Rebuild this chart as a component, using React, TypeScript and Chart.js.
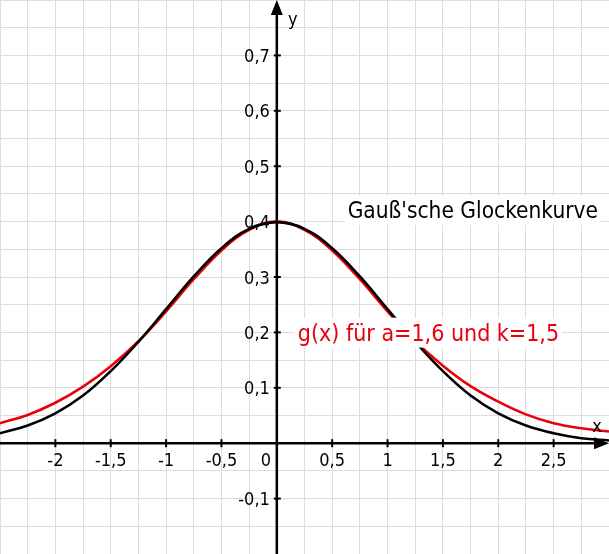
import React, { useEffect, useRef } from 'react';
import { Chart, registerables } from 'chart.js';

Chart.register(...registerables);

const xValues = [-2.5, -2.25, -2, -1.75, -1.5, -1.25, -1, -0.75, -0.5, -0.25, 0, 0.25, 0.5, 0.75, 1, 1.25, 1.5, 1.75, 2, 2.25, 2.5, 2.75, 3];
// Gauß'sche Glockenkurve (black)
const gaussValues = [0.018, 0.032, 0.054, 0.086, 0.13, 0.183, 0.242, 0.301, 0.352, 0.387, 0.399, 0.387, 0.352, 0.301, 0.242, 0.183, 0.13, 0.086, 0.054, 0.032, 0.018, 0.009, 0.005];
// g(x) für a=1,6 und k=1,5 (red)
const gValues = [0.036, 0.051, 0.073, 0.102, 0.139, 0.184, 0.238, 0.296, 0.348, 0.385, 0.4, 0.385, 0.348, 0.296, 0.238, 0.184, 0.14, 0.103, 0.075, 0.052, 0.036, 0.027, 0.021];

const xTicks = [-2, -1.5, -1, -0.5, 0.5, 1, 1.5, 2, 2.5];
const yTicks = [-0.1, 0.1, 0.2, 0.3, 0.4, 0.5, 0.6, 0.7];

const RED = '#e8000b';
const FONT = "'DejaVu Sans Condensed', 'DejaVu Sans', sans-serif";

const fmt = (v: number) => String(v).replace('.', ',');

const axesPlugin = {
  id: 'mathAxes',
  beforeDatasetsDraw(chart: any) {
    const { ctx, chartArea, scales } = chart;
    const xs = scales.x;
    const ys = scales.y;
    const x0 = xs.getPixelForValue(0);
    const y0 = ys.getPixelForValue(0);
    ctx.save();
    ctx.strokeStyle = '#000';
    ctx.fillStyle = '#000';
    ctx.lineWidth = 2.5;

    // x axis with arrow
    ctx.beginPath();
    ctx.moveTo(chartArea.left, y0);
    ctx.lineTo(chartArea.right - 8, y0);
    ctx.stroke();
    ctx.beginPath();
    ctx.moveTo(chartArea.right, y0);
    ctx.lineTo(chartArea.right - 15, y0 - 6);
    ctx.lineTo(chartArea.right - 15, y0 + 6);
    ctx.closePath();
    ctx.fill();

    // y axis with arrow
    ctx.beginPath();
    ctx.moveTo(x0, chartArea.bottom);
    ctx.lineTo(x0, chartArea.top + 8);
    ctx.stroke();
    ctx.beginPath();
    ctx.moveTo(x0, chartArea.top);
    ctx.lineTo(x0 - 6, chartArea.top + 15);
    ctx.lineTo(x0 + 6, chartArea.top + 15);
    ctx.closePath();
    ctx.fill();

    ctx.lineWidth = 2;
    ctx.font = `18px ${FONT}`;
    ctx.textBaseline = 'middle';

    ctx.textAlign = 'center';
    xTicks.forEach((v) => {
      const px = xs.getPixelForValue(v);
      ctx.beginPath();
      ctx.moveTo(px, y0 - 4);
      ctx.lineTo(px, y0 + 4);
      ctx.stroke();
      ctx.fillText(fmt(v), px, y0 + 18);
    });
    ctx.fillText('0', x0 - 11, y0 + 18);

    ctx.textAlign = 'right';
    yTicks.forEach((v) => {
      const py = ys.getPixelForValue(v);
      ctx.beginPath();
      ctx.moveTo(x0 - 3, py);
      ctx.lineTo(x0 + 4, py);
      ctx.stroke();
      ctx.fillText(fmt(v), x0 - 7, py + 2);
    });

    ctx.textAlign = 'center';
    ctx.fillText('y', x0 + 16, chartArea.top + 20);
    ctx.restore();
  },
  afterDatasetsDraw(chart: any) {
    const { ctx, scales, chartArea } = chart;
    const xs = scales.x;
    const ys = scales.y;
    const y0 = ys.getPixelForValue(0);
    ctx.save();
    ctx.textBaseline = 'alphabetic';
    ctx.textAlign = 'left';

    const label = (text: string, left: number, base: number, size: number, color: string) => {
      ctx.font = `${size}px ${FONT}`;
      const w = ctx.measureText(text).width;
      ctx.fillStyle = '#fff';
      ctx.fillRect(left - 3, base - size * 1.0, w + 6, size * 1.3);
      ctx.fillStyle = color;
      ctx.fillText(text, left, base);
    };

    label("Gauß'sche Glockenkurve", xs.getPixelForValue(0.64), ys.getPixelForValue(0.406), 22.5, '#000');
    label('g(x) für a=1,6 und k=1,5', xs.getPixelForValue(0.19), ys.getPixelForValue(0.185), 23, RED);

    ctx.font = `18px ${FONT}`;
    ctx.fillStyle = '#000';
    ctx.textAlign = 'center';
    ctx.textBaseline = 'middle';
    ctx.fillText('x', chartArea.right - 12, y0 - 16);
    ctx.restore();
  },
};

const App: React.FC = () => {
  const canvasRef = useRef<HTMLCanvasElement>(null);

  useEffect(() => {
    if (!canvasRef.current) return;
    const ctx = canvasRef.current.getContext('2d');
    if (!ctx) return;

    const chart = new Chart(ctx, {
      type: 'line',
      data: {
        datasets: [
          {
            label: 'Gauß',
            data: xValues.map((x, i) => ({ x, y: gaussValues[i] })),
            borderColor: '#000',
            borderWidth: 2.6,
            pointRadius: 0,
            tension: 0.4,
          },
          {
            label: 'g(x)',
            data: xValues.map((x, i) => ({ x, y: gValues[i] })),
            borderColor: RED,
            borderWidth: 2.6,
            pointRadius: 0,
            tension: 0.4,
          },
        ],
      },
      options: {
        responsive: false,
        animation: false,
        layout: { padding: 0 },
        plugins: { legend: { display: false }, tooltip: { enabled: false } },
        scales: {
          x: {
            type: 'linear',
            min: -2.5,
            max: 3,
            ticks: { display: false, stepSize: 0.25 },
            grid: { color: '#dcdcdc', lineWidth: 1, drawTicks: false },
            border: { display: false },
          },
          y: {
            type: 'linear',
            min: -0.2,
            max: 0.8,
            ticks: { display: false, stepSize: 0.05 },
            grid: { color: '#dcdcdc', lineWidth: 1, drawTicks: false },
            border: { display: false },
          },
        },
      },
      plugins: [axesPlugin],
    });

    return () => chart.destroy();
  }, []);

  return (
    <div style={{ position: 'fixed', left: 0, top: 0, width: 609, height: 554, background: '#fff' }}>
      <canvas ref={canvasRef} width={609} height={554} style={{ display: 'block' }} />
    </div>
  );
};

export default App;
